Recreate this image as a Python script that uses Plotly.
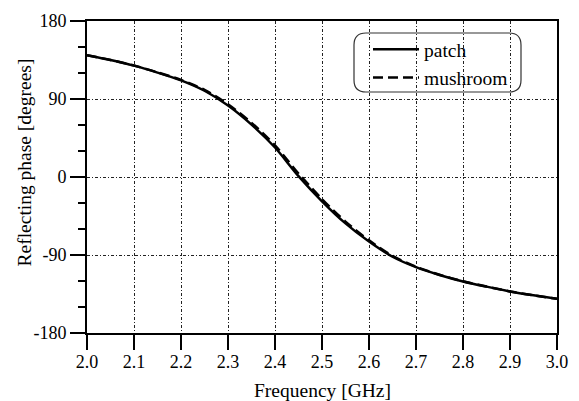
import plotly.graph_objects as go

freq = [2.00, 2.05, 2.10, 2.15, 2.20, 2.25, 2.30, 2.35, 2.40, 2.45, 2.50,
        2.55, 2.60, 2.65, 2.70, 2.75, 2.80, 2.85, 2.90, 2.95, 3.00]
patch = [140.6, 135.0, 128.5, 120.5, 111.5, 99.5, 82.5, 60.5, 34.0, 1.0, -28.0,
         -53.5, -74.5, -92.0, -104.0, -113.0, -120.5, -126.5, -132.0, -136.5, -140.6]
mushroom = [140.6, 135.0, 128.6, 120.8, 112.0, 100.5, 84.0, 62.5, 36.5, 4.0, -25.5,
            -51.5, -73.0, -91.0, -103.5, -112.8, -120.3, -126.4, -132.0, -136.5, -140.6]
x_ticks = [2.0, 2.1, 2.2, 2.3, 2.4, 2.5, 2.6, 2.7, 2.8, 2.9, 3.0]
x_ticklabels = ["2.0", "2.1", "2.2", "2.3", "2.4", "2.5", "2.6", "2.7", "2.8", "2.9", "3.0"]
y_ticks = [-180, -90, 0, 90, 180]
y_ticklabels = ["-180", "-90", "0", "90", "180"]

# page body has an 8px margin: lay out in screen pixels and subtract it
OFF = 8
W, H = 579 - OFF, 401 - OFF
PL, PR, PT, PB = 87 - OFF, 557 - OFF, 21 - OFF, 333 - OFF   # plot area in figure px
ML, MR, MT, MB = PL, W - PR, PT, H - PB
FONT = "Liberation Serif"

pw, ph = W - ML - MR, H - MT - MB
def px(sx): return (sx - OFF - ML) / pw          # screen x -> paper
def py(sy): return 1 - (sy - OFF - MT) / ph      # screen y -> paper

fig = go.Figure()
fig.add_trace(go.Scatter(x=freq, y=patch, mode="lines", name="patch",
                         line=dict(color="black", width=2.5, shape="spline", smoothing=0.8)))
fig.add_trace(go.Scatter(x=freq, y=mushroom, mode="lines", name="mushroom",
                         line=dict(color="black", width=2.5, dash="10px,5px",
                                   shape="spline", smoothing=0.8)))

grid = dict(showgrid=True, gridcolor="#222", gridwidth=1, griddash="3px,2px,1px,2px")

fig.update_xaxes(range=[2.0, 3.0], tickvals=x_ticks, ticktext=x_ticklabels,
                 ticks="outside", ticklen=15, tickwidth=2, tickcolor="black",
                 showline=True, linecolor="black", linewidth=2, mirror=True,
                 zeroline=False, automargin=False, ticklabelstandoff=-4,
                 tickfont=dict(size=18, family=FONT, color="black"), **grid)
fig.update_yaxes(range=[-180, 180], tickvals=y_ticks, ticktext=y_ticklabels,
                 ticks="outside", ticklen=15, tickwidth=2, tickcolor="black",
                 showline=True, linecolor="black", linewidth=2, mirror=True,
                 zeroline=False, automargin=False,
                 minor=dict(dtick=30, ticks="outside", ticklen=7, tickwidth=1.5,
                            tickcolor="black", showgrid=False),
                 tickfont=dict(size=18, family=FONT, color="black"), **grid)

# axis titles
fig.add_annotation(text="Frequency [GHz]", x=px(322.5), y=py(390), xref="paper", yref="paper",
                   xanchor="center", yanchor="middle", showarrow=False,
                   font=dict(size=19.5, family=FONT, color="black"))
fig.add_annotation(text="Reflecting phase [degrees]", x=px(24), y=py(162.5),
                   xref="paper", yref="paper", textangle=-90,
                   xanchor="center", yanchor="middle", showarrow=False,
                   font=dict(size=19.5, family=FONT, color="black"))

# rounded legend frame
x0, x1, y0, y1, r = 354, 521, 33, 92, 12
path = (f"M {px(x0+r)},{py(y0)} L {px(x1-r)},{py(y0)} "
        f"Q {px(x1)},{py(y0)} {px(x1)},{py(y0+r)} L {px(x1)},{py(y1-r)} "
        f"Q {px(x1)},{py(y1)} {px(x1-r)},{py(y1)} L {px(x0+r)},{py(y1)} "
        f"Q {px(x0)},{py(y1)} {px(x0)},{py(y1-r)} L {px(x0)},{py(y0+r)} "
        f"Q {px(x0)},{py(y0)} {px(x0+r)},{py(y0)} Z")
fig.add_shape(type="path", path=path, xref="paper", yref="paper",
              line=dict(color="#333", width=1.2), fillcolor="white", layer="below")

fig.update_layout(
    width=W, height=H, margin=dict(l=ML, r=MR, t=MT, b=MB, autoexpand=False),
    paper_bgcolor="white", plot_bgcolor="white",
    font=dict(family=FONT, size=18, color="black"),
    showlegend=True,
    legend=dict(x=px(368), y=py(30), xanchor="left", yanchor="top",
                bgcolor="rgba(0,0,0,0)", borderwidth=0, itemwidth=46,
                font=dict(size=19.5, family=FONT), tracegroupgap=0),
)
fig.write_html("out.html")
